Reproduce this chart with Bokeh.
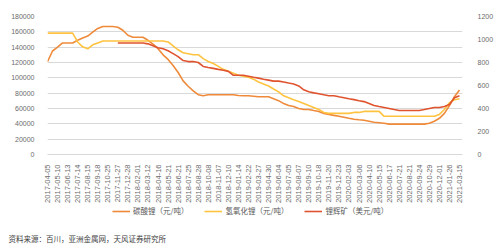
import numpy as np
from bokeh.plotting import figure
from bokeh.layouts import column
from bokeh.models import (LinearAxis, Range1d, FixedTicker, Legend, LegendItem,
                          Label, BasicTickFormatter)
from bokeh.embed import file_html
from bokeh.resources import INLINE

# Category labels shown on the date axis (one every second sample)
dates = [
    "2017-04-05", "2017-05-10", "2017-06-13", "2017-07-14", "2017-08-15", "2017-09-18",
    "2017-10-25", "2017-11-27", "2017-12-28", "2018-02-01", "2018-03-12", "2018-04-16",
    "2018-05-21", "2018-06-21", "2018-07-25", "2018-08-28", "2018-10-08", "2018-11-07",
    "2018-12-10", "2019-01-14", "2019-02-22", "2019-03-27", "2019-04-30", "2019-06-04",
    "2019-07-05", "2019-08-07", "2019-09-10", "2019-10-18", "2019-11-20", "2019-12-23",
    "2020-02-03", "2020-03-06", "2020-04-10", "2020-05-15", "2020-06-17", "2020-07-21",
    "2020-08-21", "2020-09-24", "2020-10-29", "2020-12-01", "2021-01-26", "2021-03-15",
]

# 碳酸锂 (元/吨)
carbonate = [
    121000, 135000, 140000, 145500, 145500, 145500, 149000, 152000, 154500, 159500,
    164500, 167000, 167000, 167000, 166000, 162000, 155500, 153000, 153000, 153000,
    149000, 144000, 138000, 130000, 124000, 116000, 107000, 96000, 89000, 83000,
    78000, 76600, 78000, 78000, 78000, 78000, 78000, 78000, 77000, 76600,
    76600, 76000, 75300, 75300, 75300, 72800, 70200, 66400, 63800, 62500,
    60000, 58700, 58700, 57400, 56200, 53600, 52300, 51000, 49800, 48500,
    47200, 46000, 45300, 44700, 43400, 42100, 41500, 40800, 39600, 39600,
    39600, 39600, 39600, 39600, 39600, 39600, 40800, 43400, 47200, 53600,
    63800, 75300, 84200,
]

# 氢氧化锂 (元/吨)
hydroxide = [
    158300, 158300, 158300, 158300, 158300, 158300, 146800, 140400, 137900, 143000,
    145500, 148000, 148000, 148000, 148000, 148000, 148000, 148000, 148000, 148000,
    148000, 148000, 148000, 148000, 146800, 141700, 136600, 132800, 131500, 130200,
    130200, 125100, 121300, 118700, 114900, 111100, 108500, 106000, 103400, 102100,
    100800, 98300, 94500, 91900, 89400, 85500, 81700, 76600, 74000, 71500,
    69000, 66400, 63800, 61300, 58700, 54900, 53600, 53600, 53600, 53600,
    53600, 54900, 54900, 56200, 56200, 56200, 56200, 49800, 49800, 49800,
    49800, 49800, 49800, 49800, 49800, 49800, 49800, 49800, 52300, 58700,
    67700, 71500, 72800,
]

# 锂辉矿 (美元/吨), right axis
nan = float("nan")
spodumene = [
    nan, nan, nan, nan, nan, nan, nan, nan, nan, nan,
    nan, nan, nan, nan, 970, 970, 970, 970, 970, 970,
    962, 945, 928, 919, 902, 877, 851, 817, 808, 808,
    800, 766, 757, 749, 740, 732, 723, 689, 689, 689,
    681, 672, 664, 655, 647, 638, 638, 630, 621, 613,
    596, 562, 545, 536, 528, 519, 511, 511, 502, 494,
    485, 477, 468, 460, 443, 426, 417, 409, 400, 391,
    383, 383, 383, 383, 383, 391, 400, 409, 409, 417,
    434, 494, 511,
]

series_names = ["碳酸锂（元/吨）", "氢氧化锂（元/吨）", "锂辉矿（美元/吨）"]
source_note = "资料来源：百川，亚洲金属网，天风证券研究所"

x = np.arange(len(carbonate))

C_CARB = "#EF8A3A"
C_HYD = "#FFC340"
C_SPOD = "#E0532F"
GRID = "#D9D9D9"
TICK_TXT = "#6B6B6B"
RULE = "#F7D6BA"
NUM_FONT = "Liberation Sans"
CJK_FONT = "Noto Sans CJK SC"


def strip(height, fill="white"):
    """A borderless full-width figure used for rules, legend and notes."""
    f = figure(width=500, height=height, output_backend="svg", toolbar_location=None,
               x_range=Range1d(0, 1), y_range=Range1d(0, 1),
               min_border=0, min_border_left=0, min_border_right=0,
               min_border_top=0, min_border_bottom=0)
    f.xaxis.visible = False
    f.yaxis.visible = False
    f.grid.visible = False
    f.outline_line_color = None
    f.background_fill_color = fill
    f.border_fill_color = fill
    return f


# ---- top margin and rule ----
gap = strip(2)
top_rule = strip(2, fill=RULE)

# ---- main chart ----
p = figure(width=500, height=201, output_backend="svg", toolbar_location=None,
           x_range=Range1d(0, 82.6), y_range=Range1d(0, 180000),
           min_border_left=47, min_border_right=38, min_border_top=12,
           min_border_bottom=48)
p.outline_line_color = None
p.background_fill_color = "white"
p.border_fill_color = "white"
p.extra_y_ranges = {"usd": Range1d(0, 1200)}

p.line(x, carbonate, color=C_CARB, line_width=1.6)
p.line(x, hydroxide, color=C_HYD, line_width=1.6)
p.line(x, spodumene, color=C_SPOD, line_width=1.6, y_range_name="usd")

# left axis
p.yaxis.ticker = FixedTicker(ticks=list(range(0, 180001, 20000)))
p.yaxis.formatter = BasicTickFormatter(use_scientific=False)
p.yaxis.axis_line_color = None
p.yaxis.major_tick_line_color = None
p.yaxis.minor_tick_line_color = None
p.yaxis.major_label_text_font = NUM_FONT
p.yaxis.major_label_text_font_size = "7px"
p.yaxis.major_label_text_color = TICK_TXT
p.yaxis.major_label_standoff = 7

# right axis
ax_r = LinearAxis(y_range_name="usd", ticker=FixedTicker(ticks=list(range(0, 1201, 200))))
ax_r.axis_line_color = None
ax_r.major_tick_line_color = None
ax_r.minor_tick_line_color = None
ax_r.major_label_text_font = NUM_FONT
ax_r.major_label_text_font_size = "7px"
ax_r.major_label_text_color = TICK_TXT
ax_r.major_label_standoff = 9
p.add_layout(ax_r, "right")

# date axis
tick_pos = [2 * i for i in range(len(dates))]
p.xaxis.ticker = FixedTicker(ticks=tick_pos)
p.xaxis.major_label_overrides = {t: d for t, d in zip(tick_pos, dates)}
p.xaxis.major_label_orientation = np.pi / 2
p.xaxis.axis_line_color = GRID
p.xaxis.major_tick_line_color = None
p.xaxis.minor_tick_line_color = None
p.xaxis.major_label_text_font = NUM_FONT
p.xaxis.major_label_text_font_size = "7.5px"
p.xaxis.major_label_text_color = TICK_TXT
p.xaxis.major_label_standoff = 4

p.xgrid.grid_line_color = None
p.ygrid.grid_line_color = GRID
p.ygrid.grid_line_width = 1

# ---- legend strip, rule and source note ----
leg = strip(21)
rule = strip(2, fill=RULE)
note = strip(21)

# let the strips use the full width instead of lining up with the chart frame
left_pad = 47
if "frame_align" in leg.properties():
    for f in (gap, top_rule, p, leg, rule, note):
        f.frame_align = False
    left_pad = 0

# single-point lines: nothing visible, only used as legend keys
keys = [leg.line([0.5], [0.5], color=c, line_width=1.6) for c in (C_CARB, C_HYD, C_SPOD)]
legend = Legend(items=[LegendItem(label=n, renderers=[r]) for n, r in zip(series_names, keys)],
                location=(112 - left_pad, 10), orientation="horizontal",
                border_line_color=None, background_fill_alpha=0,
                label_text_font=CJK_FONT, label_text_font_size="7.5px",
                label_text_color="#595959", glyph_width=18, glyph_height=8,
                label_standoff=3, spacing=16, padding=0, margin=0, label_height=10)
leg.add_layout(legend)

note.add_layout(Label(x=max(8 - left_pad, 0), y=11, x_units="screen", y_units="screen",
                      text=source_note, text_font=CJK_FONT, text_font_size="7.5px",
                      text_color="#404040", text_baseline="middle"))

layout = column(gap, top_rule, p, leg, rule, note, spacing=0)
open("out.html", "w").write(file_html(layout, INLINE))
